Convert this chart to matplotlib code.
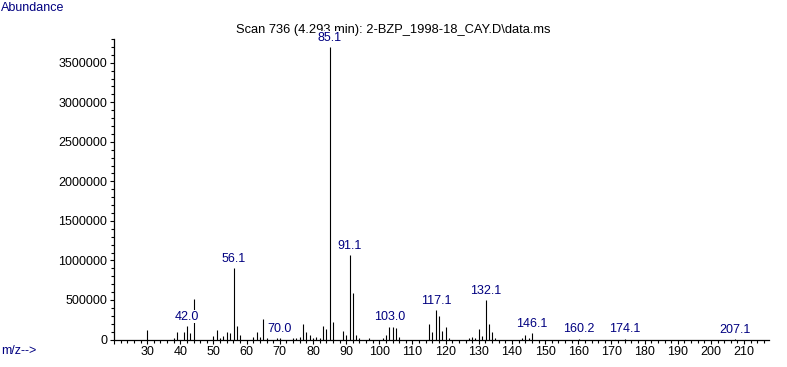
import matplotlib
matplotlib.use("Agg")
import matplotlib.pyplot as plt
from matplotlib.ticker import MultipleLocator, FuncFormatter

# Spectrum data (m/z, abundance)
mz = [30, 38, 39, 41, 42.0, 43, 44, 50, 51, 52, 53, 54, 55, 56.1, 57, 58,
      62, 63, 64, 65, 66, 69, 70.0, 74, 75, 76, 77, 78, 79, 80, 81, 82, 83, 84,
      85.1, 86, 89, 90, 91.1, 92, 93, 94, 97, 101, 102, 103.0, 104, 105, 106,
      115, 116, 117.1, 118, 119, 120, 121, 127, 128, 129, 130, 131, 132.1, 133,
      134, 135, 143, 144, 145, 146.1, 160.2, 174.1, 207.1]
abundance = [118000, 25000, 93000, 89000, 169000, 76000, 506000, 42000, 118000,
             25000, 45000, 89000, 80000, 899000, 173000, 55000,
             34000, 93000, 30000, 257000, 20000, 15000, 15000, 25000, 25000,
             34000, 194000, 101000, 51000, 25000, 34000, 21000, 173000, 131000,
             3697000, 224000, 110000, 59000, 1067000, 590000, 59000, 25000,
             17000, 21000, 51000, 160000, 160000, 143000, 30000,
             194000, 93000, 371000, 300000, 106000, 156000, 21000, 21000, 34000,
             21000, 131000, 46000, 494000, 194000,
             93000, 21000, 25000, 51000, 25000, 80000, 8000, 8000, 6000]

# Peaks that carry a label
labelled = [42.0, 56.1, 70.0, 85.1, 91.1, 103.0, 117.1, 132.1, 146.1, 160.2, 174.1, 207.1]

title = "Scan 736 (4.293 min): 2-BZP_1998-18_CAY.D\\data.ms"
blue = "#000080"

plt.rcParams["font.family"] = ["Liberation Sans", "DejaVu Sans"]
plt.rcParams["font.size"] = 9

fig = plt.figure(figsize=(7.87, 3.67), dpi=100)
ax = fig.add_axes([114 / 787, 1 - 339.5 / 367, (769 - 114) / 787, (339.5 - 39) / 367])

ax.vlines(mz, 0, abundance, colors="black", linewidth=0.8, zorder=2)

# peak labels sit on a white box, so they hide what lies under them (title, lines)
for m, a in zip(mz, abundance):
    if m in labelled:
        ax.annotate(f"{m:.1f}", (m, a), xytext=(0, 2.5), textcoords="offset points",
                    ha="center", va="bottom", color=blue, fontsize=9, zorder=5,
                    bbox=dict(facecolor="white", edgecolor="none", pad=0.3))

ax.text(0.5, 1 - 30 / 367, title, transform=fig.transFigure, ha="center",
        va="center", fontsize=9.3, zorder=1)

ax.set_xlim(20, 217.5)
ax.set_ylim(0, 3800000)

for side in ("top", "right"):
    ax.spines[side].set_visible(False)
ax.spines["left"].set_linewidth(0.9)
ax.spines["bottom"].set_linewidth(0.9)

ax.xaxis.set_major_locator(MultipleLocator(10))
ax.xaxis.set_minor_locator(MultipleLocator(2))
ax.yaxis.set_major_locator(MultipleLocator(500000))
ax.yaxis.set_minor_locator(MultipleLocator(100000))
ax.xaxis.set_major_formatter(FuncFormatter(lambda v, p: f"{v:.0f}" if v >= 30 else ""))
ax.yaxis.set_major_formatter(FuncFormatter(lambda v, p: f"{v:.0f}"))

ax.tick_params(axis="both", which="major", length=3, width=0.8, labelsize=9, pad=2)
ax.tick_params(axis="both", which="minor", length=2, width=0.8)

fig.text(0.001, 1 - 8 / 367, "Abundance", color=blue, ha="left", va="center", fontsize=9)
fig.text(0.001, 1 - 351 / 367, "m/z-->", color=blue, ha="left", va="center", fontsize=9)

fig.savefig("out.png", dpi=100)
